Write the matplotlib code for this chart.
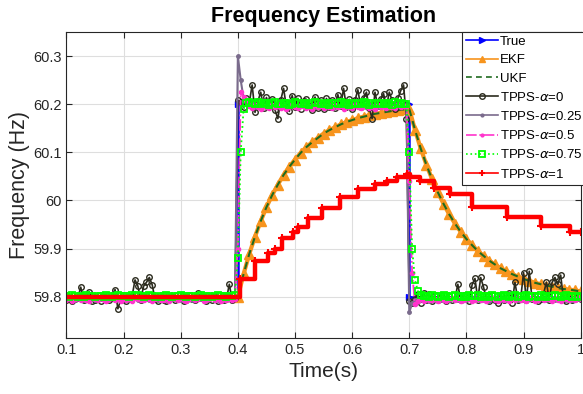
import numpy as np
import matplotlib
matplotlib.use("Agg")
import matplotlib.pyplot as plt

plt.rcParams["font.family"] = ["Liberation Sans", "DejaVu Sans"]
plt.rcParams["mathtext.fontset"] = "dejavusans"

# ── data ────────────────────────────────────────────────────────────────────
# true frequency: step up at 0.4 s, back down at 0.7 s
true_time = [0.1, 0.4, 0.4, 0.7, 0.7, 1.0]
true_freq = [59.8, 59.8, 60.2, 60.2, 59.8, 59.8]
step_on, step_off = 0.4, 0.7
low_level, high_level = 59.8, 60.2

# EKF / UKF (read every 10 ms)
ekf_time = [0.10, 0.40, 0.41, 0.42, 0.43, 0.44, 0.45, 0.46, 0.47, 0.48, 0.49,
            0.50, 0.51, 0.52, 0.53, 0.54, 0.55, 0.56, 0.57, 0.58, 0.59,
            0.60, 0.61, 0.62, 0.63, 0.64, 0.65, 0.66, 0.67, 0.68, 0.69,
            0.70, 0.71, 0.72, 0.73, 0.74, 0.75, 0.76, 0.77, 0.78, 0.79,
            0.80, 0.81, 0.82, 0.83, 0.84, 0.85, 0.86, 0.87, 0.88, 0.89,
            0.90, 0.91, 0.92, 0.93, 0.94, 0.95, 0.96, 0.97, 0.98, 0.99, 1.00]
ekf_freq = [59.800, 59.800, 59.847, 59.889, 59.925, 59.957, 59.986, 60.011, 60.033, 60.053, 60.070,
            60.085, 60.099, 60.111, 60.121, 60.130, 60.139, 60.146, 60.152, 60.158, 60.163,
            60.167, 60.171, 60.174, 60.177, 60.180, 60.182, 60.184, 60.186, 60.188, 60.189,
            60.190, 60.147, 60.108, 60.074, 60.044, 60.017, 59.993, 59.971, 59.952, 59.935,
            59.920, 59.907, 59.895, 59.885, 59.875, 59.867, 59.859, 59.853, 59.847, 59.842,
            59.837, 59.833, 59.829, 59.826, 59.823, 59.821, 59.818, 59.816, 59.815, 59.813, 59.811]
ukf_freq = list(ekf_freq)  # UKF lies on top of the EKF curve

# TPPS estimates every 5 ms, stored as deviation from the true step (mHz)
tpps_time = np.round(0.1 + 0.005 * np.arange(181), 3)

dev_a0 = [
    -6, -3, -8, -5, -2, 20, -7, -4, 10, -9,
    -6, -3, -8, -1, -5, -7, -2, 15, -25, -6,
    -4, -8, -3, 2, 35, 22, -6, 22, 30, 40,
    25, -5, -8, -2, -6, -9, -4, -1, -7, -5,
    -3, -8, -6, 3, -4, -7, 8, -2, -5, -9,
    -3, -6, 2, -8, -4, -7, -5, 26, -6, -3,
    8, 5, -6, 12, 3, 40, -17, 6, 25, -8,
    14, -4, 10, -12, -30, 8, 33, -6, -15, 18,
    -5, 12, -9, 6, 10, -4, -12, 15, -7, 8,
    -10, 12, -5, 8, -8, 20, -4, 33, -6, 10,
    -9, 8, 30, -5, 12, 25, -8, -30, 25, -4,
    10, 22, -6, 25, 8, -10, 12, 28, 40, -30,
    -8, -12, -5, 6, -12, 8, -6, 5, -9, 3,
    -7, 4, -5, -8, 2, -6, -4, 26, -7, 3,
    -5, -8, 25, 38, -6, 40, 20, -4, -8, 3,
    -6, -13, 4, -7, -5, 8, -12, 30, -6, -4,
    50, -7, 53, -5, 3, -8, -4, 6, 30, -6,
    30, 40, 26, 45, -5, -8, 3, -6, -4, 2, -5]

dev_a025 = [
    -3, -5, -2, -6, -4, -1, -5, -7, -3, -4,
    -6, -2, -5, -3, -7, -4, -2, -6, -5, -3,
    -4, -7, -2, -5, -3, -6, -4, -1, -5, -6,
    -3, -4, -7, -2, -5, -6, -3, -4, -2, -5,
    -6, -3, -5, -4, -7, -2, -4, -5, -3, -6,
    -4, -2, -5, -7, -3, -4, -6, -2, -5, -3,
    100, 50, 12, 4, -3, 2, -5, -2, 3, -4,
    -6, 1, -3, -5, 2, -4, -1, -6, -3, 2,
    -5, -2, -4, 1, -6, -3, -2, -5, 3, -4,
    -1, -6, -3, 2, -5, -4, -2, 1, -6, -3,
    -4, 2, -5, -1, -3, -6, 1, -4, -2, -5,
    -3, 2, -6, -4, -1, -5, 2, -3, -4, -2,
    -32, -14, -6, -4, -7, -3, -5, -8, -2, -6,
    -4, -7, -3, -5, -6, -2, -4, -7, -5, -3,
    -6, -4, -2, -7, -5, -3, -6, -4, -8, -2,
    -5, -3, -6, -4, -7, -2, -5, -3, -6, -4,
    -2, -7, -5, -3, -6, -4, -2, -5, -7, -3,
    -4, -6, -2, -5, -3, -7, -4, -6, -2, -5, -3]

dev_a05 = [
    -6, -3, -8, -5, -2, -7, -4, -6, -9, -3,
    -5, -7, -2, -6, -8, -4, -3, -7, -5, -9,
    -2, -6, -4, -8, -3, -5, -7, -6, -2, -4,
    -8, -5, -3, -7, -6, -4, -9, -2, -5, -7,
    -3, -6, -8, -4, -2, -7, -5, -3, -9, -6,
    -4, -2, -7, -5, -8, -3, -6, -4, -7, -5,
    -300, 25, 15, 8, -4, -7, -2, -6, -9, -3,
    -5, -8, -1, -6, -4, -7, -3, -9, -5, -2,
    -6, -8, -4, -3, -7, -5, -9, -2, -6, -4,
    -8, -3, -5, -7, -2, -6, -4, -9, -3, -5,
    -7, -2, -6, -8, -4, -3, -7, -5, -9, -2,
    -6, -4, -8, -3, -5, -7, -2, -6, -4, -3,
    240, 50, -15, -8, -5, -9, -3, -7, -6, -4,
    -8, -2, -6, -9, -5, -3, -7, -4, -8, -6,
    -2, -5, -9, -7, -3, -6, -4, -8, -5, -2,
    -7, -9, -4, -6, -3, -8, -5, -7, -2, -6,
    -4, -9, -3, -5, -8, -6, -2, -7, -4, -5,
    -9, -3, -6, -8, -2, -5, -7, -4, -6, -3, -5]

dev_a075 = [
    2, 0, 3, 1, -1, 2, 0, 3, 1, 2,
    0, 2, 1, -1, 3, 1, 0, 2, 3, 1,
    2, 1, 0, 3, 2, 4, 1, 0, 2, 3,
    1, 0, 2, -1, 1, 3, 2, 0, 1, 2,
    3, 1, 0, 2, 1, -1, 2, 3, 0, 1,
    2, 0, 1, 3, 2, 1, 0, 2, 1, 3,
    -320, -100, -10, 2, 5, 3, 1, 4, 0, 2,
    3, -1, 2, 4, 1, 0, 3, 2, -2, 1,
    4, 2, 0, 3, 1, -1, 2, 4, 3, 0,
    1, 2, -1, 3, 2, 0, 4, 1, 2, -1,
    3, 0, 2, 1, 4, 2, -1, 3, 0, 2,
    1, 3, 0, 2, -1, 4, 1, 2, 0, 1,
    300, 100, 35, 12, 3, 1, 2, 0, 3, 1,
    -1, 2, 4, 1, 0, 2, 3, 1, -1, 2,
    0, 3, 1, 2, 4, 0, 1, 2, -1, 3,
    2, 0, 1, 3, 2, -1, 1, 4, 0, 2,
    1, 3, 0, 2, 1, -1, 3, 2, 0, 1,
    2, 4, 1, 0, 2, 3, 1, -1, 2, 0, 1]

# alpha = 1 : staircase (step start times and held values)
a1_time = [0.100, 0.403, 0.430, 0.453, 0.465, 0.478, 0.497, 0.506, 0.523, 0.547,
           0.579, 0.611, 0.640, 0.661, 0.678, 0.696, 0.702, 0.719, 0.743, 0.772,
           0.810, 0.871, 0.930, 0.982, 1.000]
a1_freq = [59.800, 59.836, 59.875, 59.890, 59.900, 59.922, 59.934, 59.945, 59.964, 59.984,
           60.008, 60.024, 60.034, 60.041, 60.048, 60.055, 60.048, 60.040, 60.026, 60.014,
           59.986, 59.966, 59.946, 59.935, 59.935]

x_ticks = [0.1, 0.2, 0.3, 0.4, 0.5, 0.6, 0.7, 0.8, 0.9, 1.0]
x_labels = ["0.1", "0.2", "0.3", "0.4", "0.5", "0.6", "0.7", "0.8", "0.9", "1"]
y_ticks = [59.8, 59.9, 60.0, 60.1, 60.2, 60.3]
y_labels = ["59.8", "59.9", "60", "60.1", "60.2", "60.3"]

# ── plot ────────────────────────────────────────────────────────────────────
base = np.where((tpps_time > step_on - 1e-9) & (tpps_time < step_off - 1e-9),
                high_level, low_level)


def tpps(dev):
    return base + np.asarray(dev) / 1000.0


AX_COL = "#262626"

fig = plt.figure(figsize=(5.83, 3.94), dpi=100)
ax = fig.add_axes([0.114, 0.143, 0.882, 0.777])

ax.plot(true_time, true_freq, color="#0000ff", lw=1.8, marker=">", ms=5,
        label="True")
ax.plot(ekf_time, ekf_freq, color="#f7941d", lw=3, marker="^", ms=7,
        label="EKF")
ax.plot(ekf_time, ukf_freq, color="#1f6b1f", lw=1.5, ls=(0, (3.5, 2.5)),
        label="UKF")
ax.plot(tpps_time, tpps(dev_a0), color="#2b2b1e", lw=1.2, marker="o", ms=4,
        mfc="none", mew=1.0, label=r"TPPS-$\alpha$=0")
ax.plot(tpps_time, tpps(dev_a025), color="#7a6b8c", lw=1.5, marker=".", ms=5,
        label=r"TPPS-$\alpha$=0.25")
ax.plot(tpps_time, tpps(dev_a05), color="#ff33cc", lw=1.3, ls="-.", marker=".",
        ms=6, label=r"TPPS-$\alpha$=0.5")
ax.plot(tpps_time, tpps(dev_a075), color="#00ff00", lw=1.3, ls=":", marker="s",
        ms=4, mfc="none", mew=1.3, label=r"TPPS-$\alpha$=0.75")
ax.plot(a1_time, a1_freq, color="#ff0000", lw=3.2, drawstyle="steps-post",
        marker="+", ms=6, mew=1.5, label=r"TPPS-$\alpha$=1")

ax.set_xlim(0.1, 1.0)
ax.set_ylim(59.715, 60.351)
ax.set_xticks(x_ticks)
ax.set_xticklabels(x_labels)
ax.set_yticks(y_ticks)
ax.set_yticklabels(y_labels)
ax.tick_params(direction="in", top=True, right=True, length=4, width=0.8,
               colors=AX_COL, labelsize=10.5)
for sp in ax.spines.values():
    sp.set_color(AX_COL)
    sp.set_linewidth(0.8)
ax.grid(True, color="#dedede", lw=0.8)
ax.set_axisbelow(True)

ax.set_title("Frequency Estimation", fontsize=15.5, fontweight="bold", pad=7)
ax.set_xlabel("Time(s)", fontsize=15, color=AX_COL, labelpad=4)
ax.set_ylabel("Frequency (Hz)", fontsize=15.5, color=AX_COL, labelpad=2)

leg = ax.legend(loc="upper left", bbox_to_anchor=(0.770, 1.0), fontsize=9.5,
                frameon=True, fancybox=False, edgecolor=AX_COL, framealpha=1,
                handlelength=2.4, handletextpad=0.15, labelspacing=0.47,
                borderpad=0.3, borderaxespad=0.0)
leg.get_frame().set_linewidth(0.8)
for line in leg.get_lines():
    line.set_linewidth(1.2)
    line.set_markersize(4)

fig.savefig("out.png", dpi=100)
